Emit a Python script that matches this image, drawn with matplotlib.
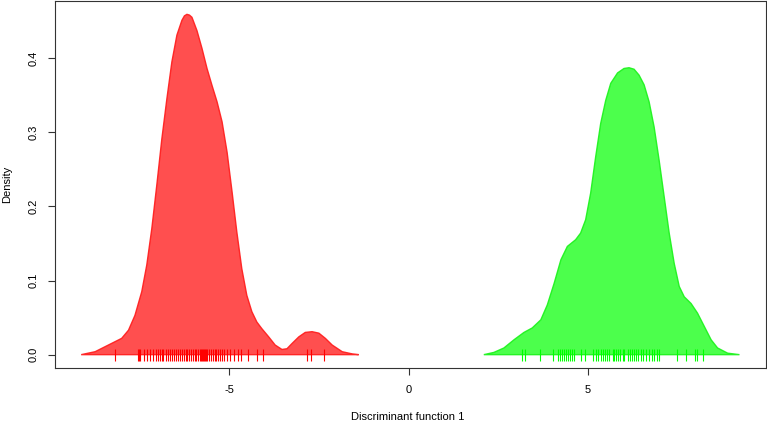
import matplotlib
matplotlib.use("Agg")
import matplotlib.pyplot as plt

plt.rcParams['font.family'] = ['Liberation Sans', 'DejaVu Sans']

# Density curve of group 1 (red)
red_x = [-9.13, -8.74, -8.37, -8.00, -7.81, -7.63, -7.44, -7.30, -7.16, -7.02, -6.88, -6.74,
         -6.60, -6.46, -6.32, -6.25, -6.18, -6.11, -6.04, -5.90, -5.76, -5.62, -5.48, -5.34, -5.20, -5.06,
         -4.92, -4.79, -4.65, -4.51, -4.37, -4.23, -4.09, -3.90, -3.72, -3.53, -3.39, -3.25,
         -3.06, -2.88, -2.69, -2.50, -2.32, -2.13, -1.85, -1.57, -1.39]
red_y = [0.000, 0.004, 0.013, 0.022, 0.033, 0.053, 0.085, 0.121, 0.170, 0.229, 0.291, 0.345,
         0.395, 0.431, 0.451, 0.457, 0.459, 0.458, 0.455, 0.437, 0.413, 0.386, 0.363, 0.341, 0.314, 0.273,
         0.219, 0.166, 0.116, 0.080, 0.058, 0.044, 0.035, 0.024, 0.013, 0.007, 0.008, 0.015,
         0.024, 0.030, 0.031, 0.029, 0.022, 0.013, 0.004, 0.001, 0.000]

# Density curve of group 2 (green)
green_x = [2.10, 2.38, 2.66, 2.94, 3.22, 3.45, 3.69, 3.87, 4.06, 4.25, 4.43, 4.66, 4.80, 4.94,
           5.08, 5.22, 5.36, 5.50, 5.64, 5.83, 6.01, 6.15, 6.29, 6.43, 6.57, 6.71, 6.85, 6.99,
           7.13, 7.27, 7.41, 7.55, 7.69, 7.88, 8.06, 8.25, 8.44, 8.62, 8.90, 9.23]
green_y = [0.000, 0.003, 0.009, 0.020, 0.030, 0.036, 0.047, 0.067, 0.096, 0.128, 0.146, 0.155,
           0.164, 0.182, 0.218, 0.267, 0.312, 0.343, 0.366, 0.380, 0.386, 0.387, 0.385, 0.377,
           0.364, 0.341, 0.307, 0.262, 0.213, 0.164, 0.123, 0.092, 0.078, 0.069, 0.056, 0.038,
           0.020, 0.009, 0.002, 0.000]

# Rug (observations)
red_rug = [-8.18, -7.54, -7.51, -7.49, -7.37, -7.29, -7.21, -7.12, -7.04, -6.98, -6.93, -6.87,
           -6.84, -6.76, -6.70, -6.65, -6.59, -6.54, -6.48, -6.42, -6.37, -6.31, -6.26, -6.20,
           -6.17, -6.12, -6.06, -6.01, -5.95, -5.92, -5.87, -5.81, -5.78, -5.75, -5.73, -5.70,
           -5.67, -5.64, -5.61, -5.56, -5.50, -5.45, -5.39, -5.36, -5.31, -5.25, -5.20, -5.14,
           -5.06, -4.97, -4.86, -4.75, -4.66, -4.47, -4.22, -4.05, -2.82, -2.71, -2.35]
green_rug = [3.16, 3.24, 3.66, 4.02, 4.16, 4.22, 4.27, 4.33, 4.39, 4.44, 4.50, 4.55, 4.61, 4.80,
             4.92, 5.14, 5.22, 5.28, 5.36, 5.42, 5.47, 5.53, 5.59, 5.70, 5.73, 5.78, 5.84, 5.89,
             5.98, 6.01, 6.12, 6.17, 6.23, 6.28, 6.34, 6.40, 6.48, 6.54, 6.62, 6.70, 6.79, 6.84,
             6.93, 6.98, 7.49, 7.74, 7.99, 8.04, 8.21]

x_ticks = [-5, 0, 5]
x_ticklabels = ["-5", "0", "5"]
y_ticks = [0.0, 0.1, 0.2, 0.3, 0.4]
y_ticklabels = ["0.0", "0.1", "0.2", "0.3", "0.4"]

fig = plt.figure(figsize=(7.67, 4.23), dpi=100)
ax = fig.add_axes([55 / 767, 55 / 423, 711 / 767, 367 / 423])

ax.fill(red_x, red_y, facecolor=(1, 0, 0, 0.69), edgecolor=(1, 0.1, 0.1, 0.9), linewidth=1.0)
ax.fill(green_x, green_y, facecolor=(0, 1, 0, 0.70), edgecolor=(0.1, 0.95, 0.1, 0.9), linewidth=1.0)

ax.vlines(red_rug, -0.008, 0.008, colors='#ff0000', linewidth=0.8)
ax.vlines(green_rug, -0.008, 0.008, colors='#00ff00', linewidth=0.8)

ax.set_xlim(-9.86, 9.97)
ax.set_ylim(-0.018, 0.477)

ax.set_xticks(x_ticks)
ax.set_xticklabels(x_ticklabels, fontsize=8)
ax.set_yticks(y_ticks)
ax.set_yticklabels(y_ticklabels, fontsize=8, rotation=90, va='center')
ax.tick_params(axis='both', direction='out', length=5, width=0.8, colors='#333333', labelcolor='black')
ax.tick_params(axis='x', pad=7)
ax.tick_params(axis='y', pad=7)

for s in ax.spines.values():
    s.set_color('#333333')
    s.set_linewidth(0.8)

fig.text(408 / 767, 1 - 417 / 423, "Discriminant function 1", fontsize=8, ha='center', va='center')
fig.text(7 / 767, 1 - 184 / 423, "Density", fontsize=8, ha='center', va='center', rotation=90)

fig.savefig("out.png", dpi=100)
